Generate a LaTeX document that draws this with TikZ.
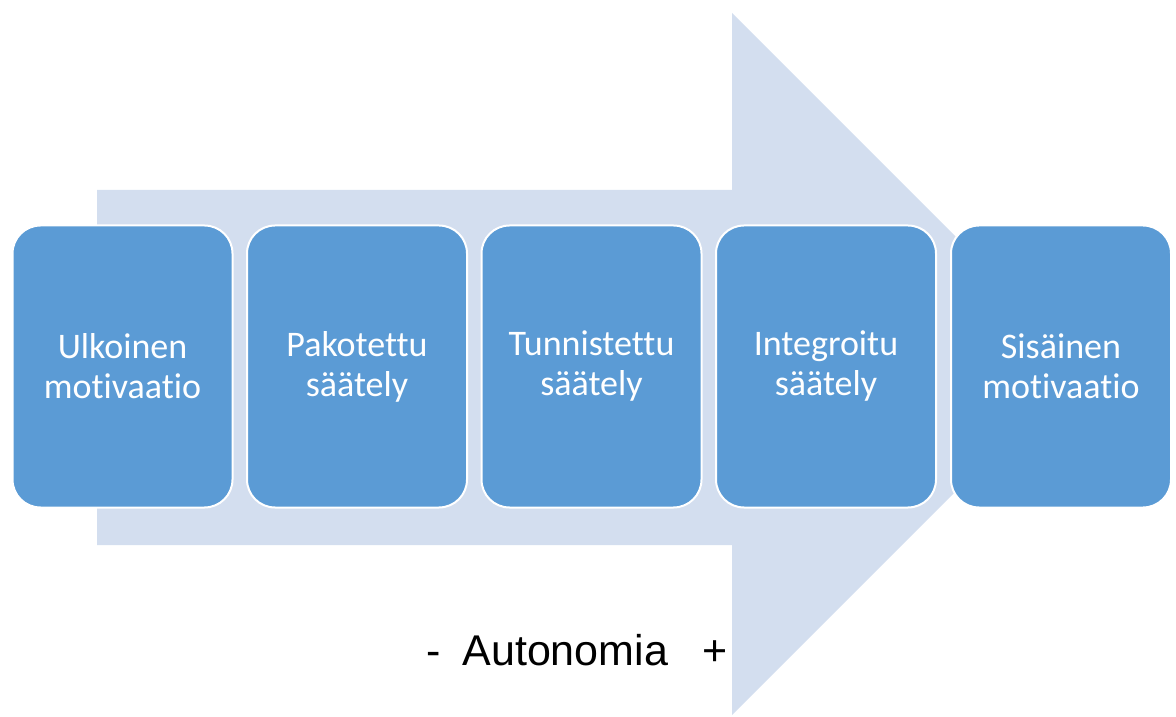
\documentclass[tikz,border=0pt]{standalone}
\usepackage{fontspec}
\setmainfont{Carlito}[Ligatures=NoCommon]
\newfontfamily\arialfont{Liberation Sans}
\usepackage{xcolor}
\usepackage{tikz}
\usetikzlibrary{positioning}

\definecolor{stageblue}{HTML}{5B9BD5}
\definecolor{arrowpale}{HTML}{D3DEEF}

\begin{document}
\begin{tikzpicture}[
    x=1pt, y=1pt,
    stage/.style={draw=white, fill=stageblue, line width=2pt, rounded corners=28pt,
                  minimum width=220pt, minimum height=282pt, align=center, text=white,
                  font=\fontsize{36}{40}\selectfont},
    label/.style={font=\arialfont\fontsize{43}{47}\selectfont, inner sep=0pt, anchor=base west},
]
  \useasboundingbox (0,0) rectangle (1176,716);

  % background arrow
  \fill[arrowpale] (97,526) -- (732,526) -- (732,703) -- (1083,352)
                   -- (732,1) -- (732,171) -- (97,171) -- cycle;

  \node[stage] (s1) at (122.5,349.5) {Ulkoinen\\motivaatio};
  \node[stage] (s2) at (357,349.5)   {Pakotettu\\säätely};
  \node[stage] (s3) at (591.5,349.5) {Tunnistettu\\säätely};
  \node[stage] (s4) at (826,349.5)   {Integroitu\\säätely};
  \node[stage] (s5) at (1061,349.5)  {Sisäinen\\motivaatio};

  \node[label] (auto) at (426,51) {-\hspace{22pt}Autonomia\hspace{34pt}+};
\end{tikzpicture}
\end{document}
